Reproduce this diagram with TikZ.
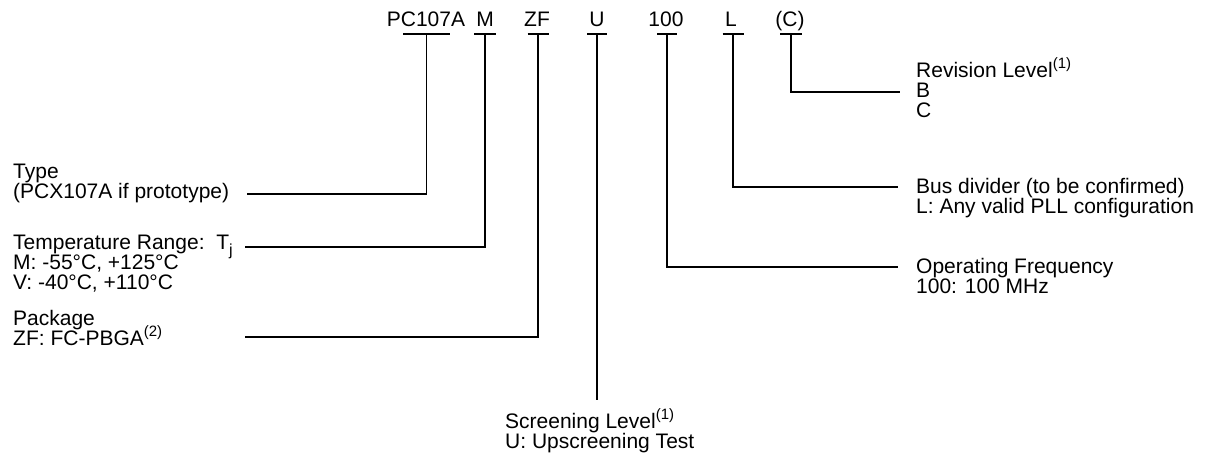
\documentclass[tikz,border=0pt]{standalone}
\usepackage{fontspec}
\setmainfont{Liberation Sans}
\usetikzlibrary{positioning}
\newcommand{\partfont}{\fontsize{21}{20}\selectfont}
\newcommand{\supnote}[1]{\smash{\raisebox{0.42em}{\fontsize{15}{15}\selectfont(#1)}}}
\newcommand{\subnote}[1]{\smash{\raisebox{-0.3em}{\fontsize{16}{16}\selectfont #1}}}

\begin{document}
\begin{tikzpicture}[x=1pt, y=1pt,
  code/.style={anchor=base, inner sep=0pt, font=\partfont},
  desc/.style={anchor=base west, inner sep=0pt, align=left, font=\partfont},
  tick/.style={line width=2pt},
  lead/.style={line width=1.9pt}]
  \useasboundingbox (0,0) rectangle (1206,-464);

  % Part number fields
  \node[code] (pcode) at (426,-26) {PC107A};
  \node[code] (mcode) at (485,-26) {M};
  \node[code] (zfcode) at (537,-26) {ZF};
  \node[code] (ucode) at (597,-26) {U};
  \node[code] (fcode) at (666,-26) {100};
  \node[code] (lcode) at (731,-26) {L};
  \node[code] (ccode) at (790,-26) {(C)};

  % Bars under the fields
  \coordinate (pbar) at (426.5,-34);
  \coordinate (mbar) at (485,-34);
  \coordinate (zfbar) at (538,-34);
  \coordinate (ubar) at (597,-34);
  \coordinate (fbar) at (667,-34);
  \coordinate (lbar) at (733,-34);
  \coordinate (cbar) at (791,-34);
  \foreach \b/\w in {pbar/23.5, mbar/11, zfbar/10.5, ubar/10, fbar/10, lbar/10.5, cbar/11}
    \draw[tick] ([xshift=-\w]\b) -- ([xshift=\w]\b);

  % Left side (base = last line)
  \node[desc] (type) at (13,-198) {Type\\(PCX107A if prototype)};
  \node[desc] (temp) at (13,-289) {Temperature Range:\ \ T\subnote{j}\\M: -55°C, +125°C\\V: -40°C, +110°C};
  \node[desc] (pkg) at (13,-345) {Package\\ZF: FC-PBGA\supnote{2}};
  \coordinate (typeend) at (247,-194);
  \coordinate (tempend) at (245,-247);
  \coordinate (pkgend) at (245,-337);
  \draw[lead] (pbar) |- (typeend);
  \draw[lead] (mbar) |- (tempend);
  \draw[lead] (zfbar) |- (pkgend);

  % Bottom
  \node[desc] (scr) at (505,-448) {Screening Level\supnote{1}\\U: Upscreening Test};
  \coordinate (scrend) at (597,-400);
  \draw[lead] (ubar) -- (scrend);

  % Right side
  \node[desc] (rev) at (916,-117) {Revision Level\supnote{1}\\B\\C};
  \node[desc] (bus) at (916,-213) {Bus divider (to be confirmed)\\L: Any valid PLL configuration};
  \node[desc] (freq) at (916,-293) {Operating Frequency\\100: 100 MHz};
  \coordinate (revend) at (900,-92);
  \coordinate (busend) at (898,-187);
  \coordinate (freqend) at (898,-267);
  \draw[lead] (cbar) |- (revend);
  \draw[lead] (lbar) |- (busend);
  \draw[lead] (fbar) |- (freqend);
\end{tikzpicture}
\end{document}
